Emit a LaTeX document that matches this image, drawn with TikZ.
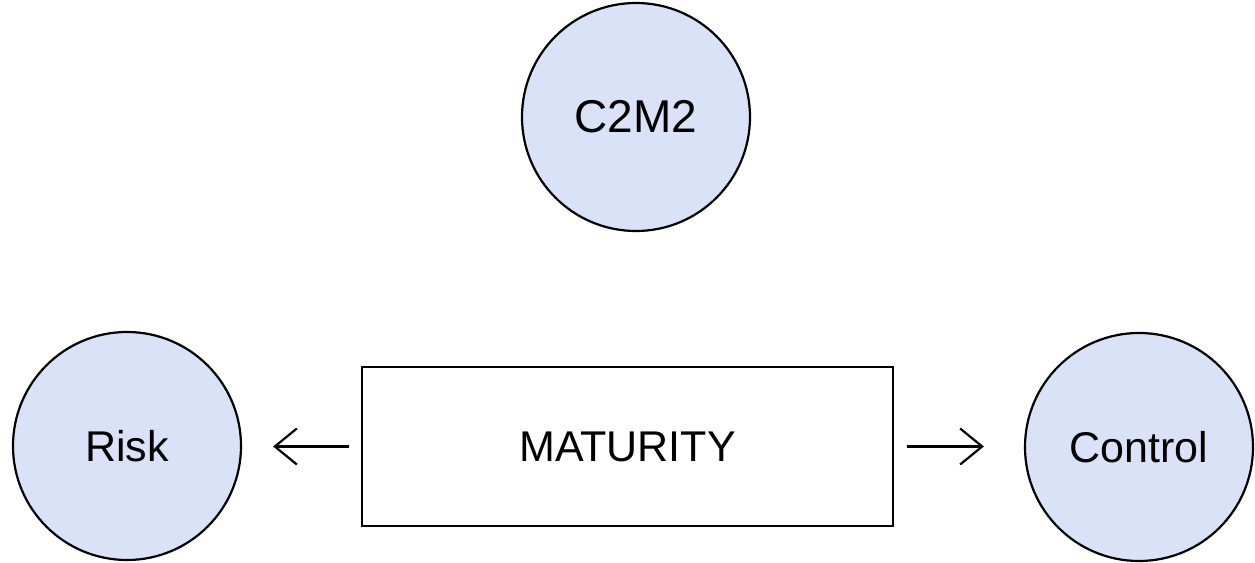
\documentclass[tikz,border=0pt]{standalone}
\usepackage{fontspec}
\setmainfont{Liberation Sans}
\usetikzlibrary{arrows.meta}
\definecolor{fillblue}{RGB}{218,226,248}
\tikzset{
  bubble/.style={circle, draw=black, line width=2.2bp, fill=fillblue, minimum size=228bp, inner sep=0pt, font=\fontsize{43bp}{47bp}\selectfont},
  mbox/.style={rectangle, draw=black, line width=2.2bp, fill=white, minimum width=531bp, minimum height=159bp, inner sep=0pt, font=\fontsize{43bp}{47bp}\selectfont},
  conn/.style={line width=2.2bp, -{Straight Barb[length=22bp, width=36bp, line width=2.2bp]}}
}
\begin{document}
\begin{tikzpicture}[x=1bp, y=-1bp]
\useasboundingbox[fill=white] (0,0) rectangle (1255,563);
\node[bubble, font=\fontsize{46bp}{50bp}\selectfont] (c2m2) at (636,117) {C2M2};
\node[bubble] (risk) at (127,446) {Risk};
\node[bubble] (control) at (1139,447) {Control};
\node[mbox] (mat) at (627.5,446.5) {MATURITY};
\draw[conn, shorten <=12bp, shorten >=31bp] (mat.west) -- (risk.east |- mat.west);
\draw[conn, shorten <=13bp, shorten >=40bp] (mat.east) -- (control.west |- mat.east);
\end{tikzpicture}
\end{document}
